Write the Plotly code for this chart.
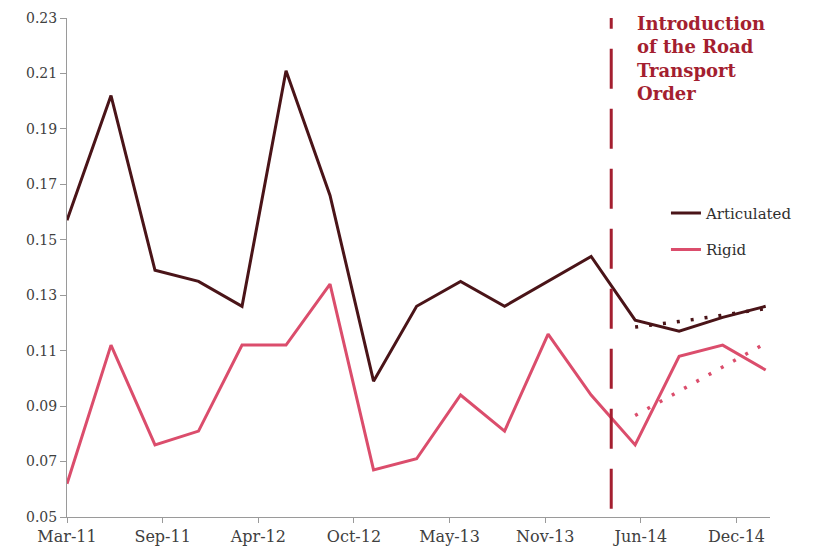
import plotly.graph_objects as go

dates = ["2011-03-01", "2011-06-01", "2011-09-01", "2011-12-01",
         "2012-03-01", "2012-06-01", "2012-09-01", "2012-12-01",
         "2013-03-01", "2013-06-01", "2013-09-01", "2013-12-01",
         "2014-03-01", "2014-06-01", "2014-09-01", "2014-12-01",
         "2015-03-01"]
articulated = [0.157, 0.202, 0.139, 0.135, 0.126, 0.211, 0.166, 0.099,
               0.126, 0.135, 0.126, 0.135, 0.144, 0.121, 0.117, 0.122, 0.126]
rigid = [0.062, 0.112, 0.076, 0.081, 0.112, 0.112, 0.134, 0.067,
         0.071, 0.094, 0.081, 0.116, 0.094, 0.076, 0.108, 0.112, 0.103]

trend_dates = ["2014-06-01", "2014-09-01", "2014-12-01", "2015-03-01"]
articulated_trend = [0.1185, 0.1205, 0.1228, 0.1252]
rigid_trend = [0.0866, 0.0953, 0.1040, 0.1127]

intro_date = "2014-04-12"
annotation_text = "Introduction<br>of the Road<br>Transport<br>Order"

C_ART = "#4A1418"
C_RIG = "#DB4D6C"
C_INTRO = "#A41F30"
FONT = "DejaVu Serif"

fig = go.Figure()
fig.add_trace(go.Scatter(x=dates, y=articulated, mode="lines", name="Articulated",
                         line=dict(color=C_ART, width=3), legendgroup="a"))
fig.add_trace(go.Scatter(x=dates, y=rigid, mode="lines", name="Rigid",
                         line=dict(color=C_RIG, width=3), legendgroup="b"))
fig.add_trace(go.Scatter(x=trend_dates, y=articulated_trend, mode="lines",
                         line=dict(color=C_ART, width=3.5, dash="3px,11px"),
                         showlegend=False))
fig.add_trace(go.Scatter(x=trend_dates, y=rigid_trend, mode="lines",
                         line=dict(color=C_RIG, width=3.5, dash="3px,11px"),
                         showlegend=False))

fig.add_shape(type="line", xref="x", yref="y", x0=intro_date, x1=intro_date,
              y0=0.053, y1=0.231, line=dict(color=C_INTRO, width=3, dash="40px,20px"))

fig.add_annotation(xref="paper", yref="paper", x=0.808, y=1.014,
                   xanchor="left", yanchor="top", align="left", showarrow=False,
                   text="<b>" + annotation_text + "</b>",
                   font=dict(family=FONT, size=18, color=C_INTRO))

fig.update_layout(
    width=816, height=554,
    margin=dict(l=59, r=54, t=10, b=45, autoexpand=False),
    paper_bgcolor="white", plot_bgcolor="white",
    font=dict(family=FONT, color="#404040"),
    showlegend=True,
    legend=dict(x=0.852, y=0.642, xanchor="left", yanchor="top",
                bgcolor="rgba(0,0,0,0)", font=dict(family=FONT, size=15, color="#303030"),
                tracegroupgap=14),
    xaxis=dict(type="date", range=["2011-03-01", "2015-03-10"],
               tick0="2011-03-01", dtick=200 * 86400000, tickformat="%b-%y",
               showline=True, linecolor="#9a9a9a", linewidth=1,
               ticks="outside", ticklen=5, tickcolor="#9a9a9a",
               showgrid=False, zeroline=False,
               tickfont=dict(family=FONT, size=16, color="#404040")),
    yaxis=dict(range=[0.05, 0.23], tick0=0.05, dtick=0.02, tickformat=".2f",
               showline=True, linecolor="#9a9a9a", linewidth=1,
               ticks="outside", ticklen=6, tickcolor="#9a9a9a",
               showgrid=False, zeroline=False,
               tickfont=dict(family=FONT, size=14, color="#404040")),
)

fig.write_html("out.html")
